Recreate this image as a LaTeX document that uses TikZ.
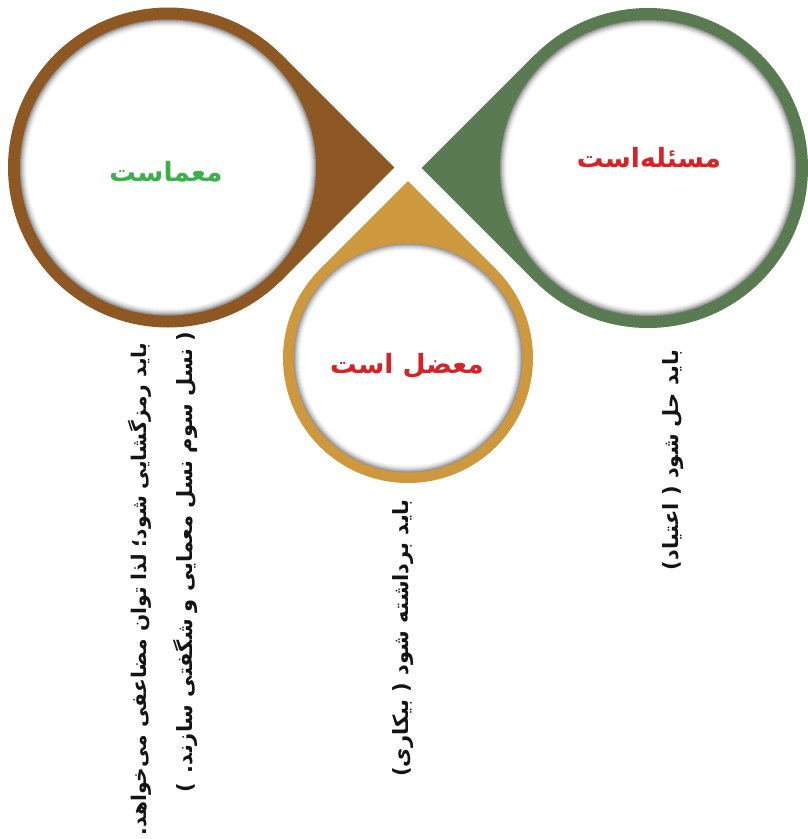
\documentclass[tikz,border=0pt]{standalone}
\usepackage{fontspec}
\usetikzlibrary{calc}
\TeXXeTstate=1
\newfontfamily\arabicfont[Script=Arabic]{DejaVu Sans}
\definecolor{cbrown}{RGB}{141,88,36}
\definecolor{cgreen}{RGB}{90,122,82}
\definecolor{cgold}{RGB}{206,153,62}
\definecolor{tred}{RGB}{215,35,40}
\definecolor{tgreen}{RGB}{58,178,74}
\tikzset{
  title/.style={font=\arabicfont\bfseries\fontsize{26.5}{30}\selectfont, inner sep=0pt},
  vtext/.style={font=\arabicfont\bfseries\fontsize{21}{24}\selectfont, rotate=90, inner sep=0pt, text=black!92},
}
\newcommand{\innerdisc}[2]{%
  \foreach \k/\c in {0/42,1/32,2/24,3/17,4/11,5/6,6/3,7/0}{
    \fill[black!\c] (#1) circle ({#2-\k});
  }%
}
\begin{document}
\begin{tikzpicture}[x=1pt,y=-1pt]
\useasboundingbox (0,0) rectangle (808,839);
% centres and tips
\coordinate (cb) at (168,167.5);
\coordinate (tb) at ($(cb)+(226.3,0)$);
\coordinate (cg) at (648,168);
\coordinate (tg) at ($(cg)+(-226.3,0)$);
\coordinate (cy) at (408,358);
\coordinate (ty) at ($(cy)+(0,-176.8)$);
% brown
\fill[cbrown] (cb) circle (160);
\fill[cbrown] (cb) -- ($(cb)+(45:160)$) -- (tb) -- ($(cb)+(-45:160)$) -- cycle;
\innerdisc{cb}{148}
% green
\fill[cgreen] (cg) circle (160);
\fill[cgreen] (cg) -- ($(cg)+(135:160)$) -- (tg) -- ($(cg)+(-135:160)$) -- cycle;
\innerdisc{cg}{148}
% gold
\fill[cgold] (cy) circle (125);
\fill[cgold] (cy) -- ($(cy)+(-45:125)$) -- (ty) -- ($(cy)+(-135:125)$) -- cycle;
\innerdisc{cy}{114.5}
% titles
\node[title, text=tgreen] (t1) at (166,172) {\beginR معماست\endR};
\node[title, text=tred] (t2) at (649,158) {\beginR مسئله‌است\endR};
\node[title, text=tred] (t3) at (407,366) {\beginR معضل است\endR};
% vertical texts
\node[vtext, font=\arabicfont\bfseries\fontsize{20.2}{24}\selectfont] (l1) at (140,589) {\beginR باید رمزگشایی شود؛ لذا توان مضاعفی می‌خواهد.\endR};
\node[vtext] (l2) at (186,562) {\beginR ( نسل سوم نسل معمایی و شگفتی سازند. )\endR};
\node[vtext] (m1) at (403,638) {\beginR باید برداشته شود ( بیکاری)\endR};
\node[vtext] (r1) at (673,460) {\beginR باید حل شود ( اعتیاد)\endR};
\end{tikzpicture}
\end{document}
